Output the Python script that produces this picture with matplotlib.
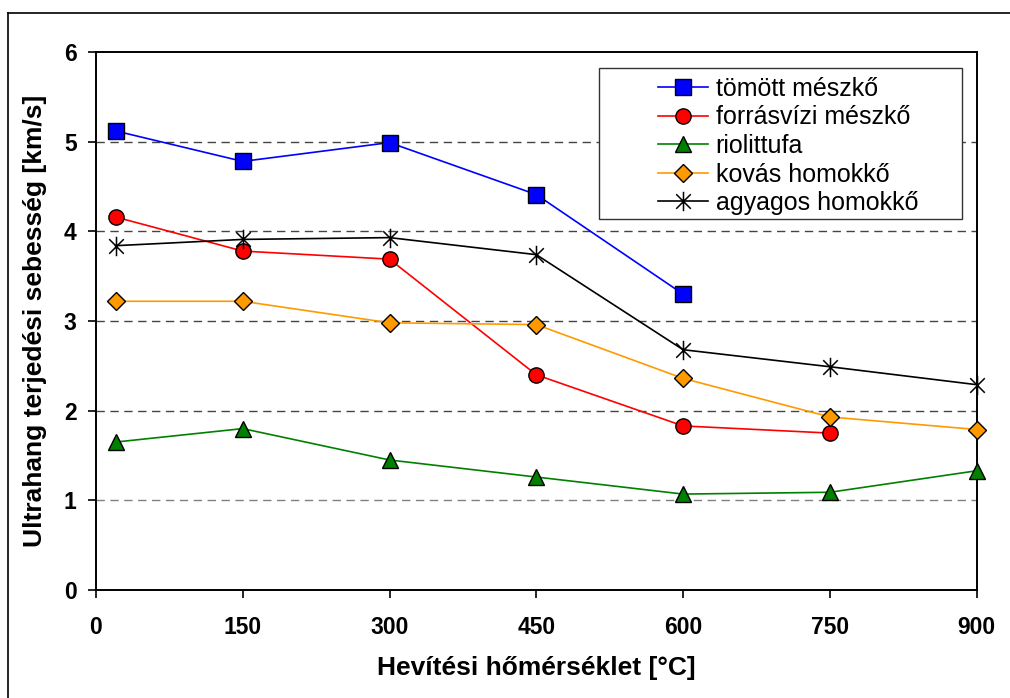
import matplotlib
matplotlib.use('Agg')
import matplotlib.pyplot as plt
from matplotlib.lines import Line2D
from matplotlib.patches import Rectangle
from matplotlib.path import Path

plt.rcParams['font.family'] = ['Liberation Sans', 'DejaVu Sans']

# heating temperature [°C]
temps = [20, 150, 300, 450, 600, 750, 900]

tomott = [5.12, 4.78, 4.99, 4.41, 3.30]
forrasvizi = [4.16, 3.78, 3.69, 2.40, 1.83, 1.75]
riolittufa = [1.65, 1.80, 1.45, 1.26, 1.07, 1.09, 1.33]
kovas = [3.22, 3.22, 2.98, 2.96, 2.36, 1.93, 1.79]
agyagos = [3.84, 3.91, 3.93, 3.74, 2.68, 2.49, 2.29]

# excel style star: vertical bar + X
star = Path([(0, -1), (0, 1), (-0.75, -0.75), (0.75, 0.75), (-0.75, 0.75), (0.75, -0.75)],
            [Path.MOVETO, Path.LINETO, Path.MOVETO, Path.LINETO, Path.MOVETO, Path.LINETO])

series = [
    ('tömött mészkő', tomott, '#0000FF', 's'),
    ('forrásvízi mészkő', forrasvizi, '#FF0000', 'o'),
    ('riolittufa', riolittufa, '#008000', '^'),
    ('kovás homokkő', kovas, '#FF9900', 'D'),
    ('agyagos homokkő', agyagos, '#000000', star),
]

fig = plt.figure(figsize=(10.1, 6.98), dpi=100)
ax = fig.add_axes([0.095, 0.1547, 0.872, 0.7708])

handles = []
for name, vals, col, mk in series:
    x = temps[:len(vals)]
    if mk is star:
        h, = ax.plot(x, vals, color=col, lw=1.2, marker=mk, markersize=14,
                     markeredgecolor='black', markeredgewidth=1.1, label=name,
                     clip_on=False, zorder=3)
    else:
        ms = 9.5 if mk == 'D' else 11
        h, = ax.plot(x, vals, color=col, lw=1.2, marker=mk, markersize=ms,
                     markerfacecolor=col, markeredgecolor='black', markeredgewidth=1.0,
                     label=name, clip_on=False, zorder=3)
    handles.append(h)

ax.set_xlim(0, 900)
ax.set_ylim(0, 6)
ax.set_xticks([0, 150, 300, 450, 600, 750, 900])
ax.set_yticks([0, 1, 2, 3, 4, 5, 6])
for yv in [1, 2, 3, 4, 5]:
    gc = '#808080' if yv == 1 else '#444444'
    ax.axhline(yv, color=gc, lw=1.0, ls=(0, (6, 4)), zorder=1)

for s in ax.spines.values():
    s.set_linewidth(1.4)
    s.set_color('black')

ax.tick_params(direction='out', length=6, width=1.2, labelsize=16.5)
ax.tick_params(axis='x', pad=13)
ax.tick_params(axis='y', pad=8)
for lbl in ax.get_xticklabels() + ax.get_yticklabels():
    lbl.set_fontweight('bold')

ax.set_xlabel('Hevítési hőmérséklet [°C]', fontsize=19, fontweight='bold', labelpad=12)
ax.set_ylabel('Ultrahang terjedési sebesség [km/s]', fontsize=19, fontweight='bold', labelpad=12)

# legend box drawn separately (Excel has wide left padding)
box = Rectangle((599 / 1010, 1 - 219 / 698), 363 / 1010, 151 / 698,
                transform=fig.transFigure, facecolor='white', edgecolor='#333333',
                lw=1.0, clip_on=False, zorder=4)
ax.add_patch(box)
leg = ax.legend(handles=handles, loc='upper left', bbox_to_anchor=(658 / 1010, 1 - 77 / 698),
                bbox_transform=fig.transFigure, fontsize=18, frameon=False,
                borderpad=0, handlelength=2.0, handletextpad=0.3, labelspacing=0.18,
                borderaxespad=0)
leg.set_zorder(5)

# outer chart border (only left and top edges are inside the image)
fig.add_artist(Line2D([8 / 1010, 8 / 1010], [0, 1 - 13 / 698], color='black', lw=1.2))
fig.add_artist(Line2D([8 / 1010, 1], [1 - 13 / 698, 1 - 13 / 698], color='black', lw=1.2))

fig.savefig('out.png', dpi=100)
